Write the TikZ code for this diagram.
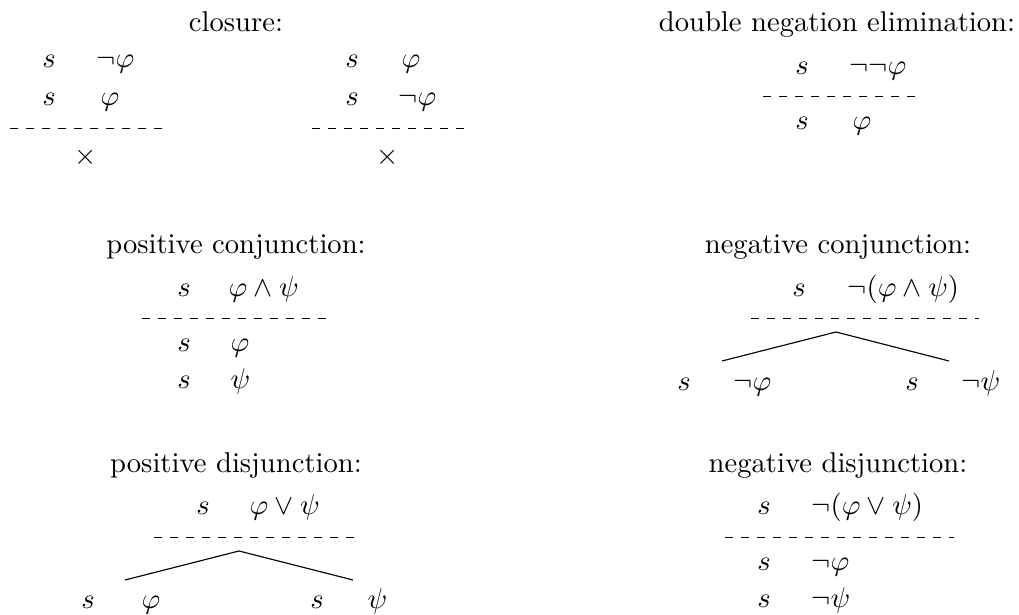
\documentclass[tikz,border=0pt]{standalone}
\usepackage{amssymb}

\tikzset{
  ttl/.style={anchor=base},
  lab/.style={anchor=base},
  fml/.style={anchor=base west},
  sep/.style={dash pattern=on 2.8pt off 2.8pt,line width=0.35pt},
  branch/.style={line width=0.4pt}
}

\begin{document}
\begin{tikzpicture}[x=0.01229cm,y=-0.01229cm,line cap=butt,every node/.style={inner sep=0pt}]
  \useasboundingbox (0,0) rectangle (1019,615);
  \node[ttl] (clT) at (236,32) {closure:};
  \node[lab] (clAs1) at (49,68) {$s$};
  \node[fml] (clAf1) at (96,68) {$\neg\varphi$};
  \node[lab] (clAs2) at (49,106) {$s$};
  \node[fml] (clAf2) at (100,106) {$\varphi$};
  \draw[sep] (10,128.5) -- (163,128.5);
  \node (clAx) at (86,157) {$\times$};
  \node[lab] (clBs1) at (352,68) {$s$};
  \node[fml] (clBf1) at (401,68) {$\varphi$};
  \node[lab] (clBs2) at (352,106) {$s$};
  \node[fml] (clBf2) at (398,106) {$\neg\varphi$};
  \draw[sep] (312,128.5) -- (465,128.5);
  \node (clBx) at (388,157) {$\times$};
  \node[ttl] (dnT) at (837,32) {double negation elimination:};
  \node[lab] (dns1) at (802,75) {$s$};
  \node[fml] (dnf1) at (849,75) {$\neg\neg\varphi$};
  \draw[sep] (763,96.5) -- (916,96.5);
  \node[lab] (dns2) at (802,130) {$s$};
  \node[fml] (dnf2) at (852,130) {$\varphi$};
  \node[ttl] (pcT) at (236,254) {positive conjunction:};
  \node[lab] (pcs1) at (184,297) {$s$};
  \node[fml] (pcf1) at (228,297) {$\varphi\wedge\psi$};
  \draw[sep] (142,318.5) -- (326,318.5);
  \node[lab] (pcs2) at (184,352) {$s$};
  \node[fml] (pcf2) at (230,352) {$\varphi$};
  \node[lab] (pcs3) at (184,389) {$s$};
  \node[fml] (pcf3) at (230,389) {$\psi$};
  \node[ttl] (ncT) at (838,254) {negative conjunction:};
  \node[lab] (ncs1) at (799,297) {$s$};
  \node[fml] (ncf1) at (847,297) {$\neg(\varphi\wedge\psi)$};
  \draw[sep] (751,318.5) -- (979,318.5);
  \coordinate (ncA) at (836,332);
  \coordinate (ncL) at (722,361);
  \coordinate (ncR) at (949,361);
  \draw[branch] (ncL) -- (ncA) -- (ncR);
  \node[lab] (ncsL) at (684,391) {$s$};
  \node[fml] (ncfL) at (733,391) {$\neg\varphi$};
  \node[lab] (ncsR) at (912,391) {$s$};
  \node[fml] (ncfR) at (961,391) {$\neg\psi$};
  \node[ttl] (pdT) at (236,473) {positive disjunction:};
  \node[lab] (pds1) at (203,515) {$s$};
  \node[fml] (pdf1) at (249,515) {$\varphi\vee\psi$};
  \draw[sep] (154,537.5) -- (354,537.5);
  \coordinate (pdA) at (239,551);
  \coordinate (pdL) at (125,580);
  \coordinate (pdR) at (353,580);
  \draw[branch] (pdL) -- (pdA) -- (pdR);
  \node[lab] (pdsL) at (88,609) {$s$};
  \node[fml] (pdfL) at (141,609) {$\varphi$};
  \node[lab] (pdsR) at (317,609) {$s$};
  \node[fml] (pdfR) at (367,609) {$\psi$};
  \node[ttl] (ndT) at (838,473) {negative disjunction:};
  \node[lab] (nds1) at (764,515) {$s$};
  \node[fml] (ndf1) at (811,515) {$\neg(\varphi\vee\psi)$};
  \draw[sep] (725,537.5) -- (954,537.5);
  \node[lab] (nds2) at (764,571) {$s$};
  \node[fml] (ndf2) at (811,571) {$\neg\varphi$};
  \node[lab] (nds3) at (764,608) {$s$};
  \node[fml] (ndf3) at (811,608) {$\neg\psi$};
\end{tikzpicture}
\end{document}
